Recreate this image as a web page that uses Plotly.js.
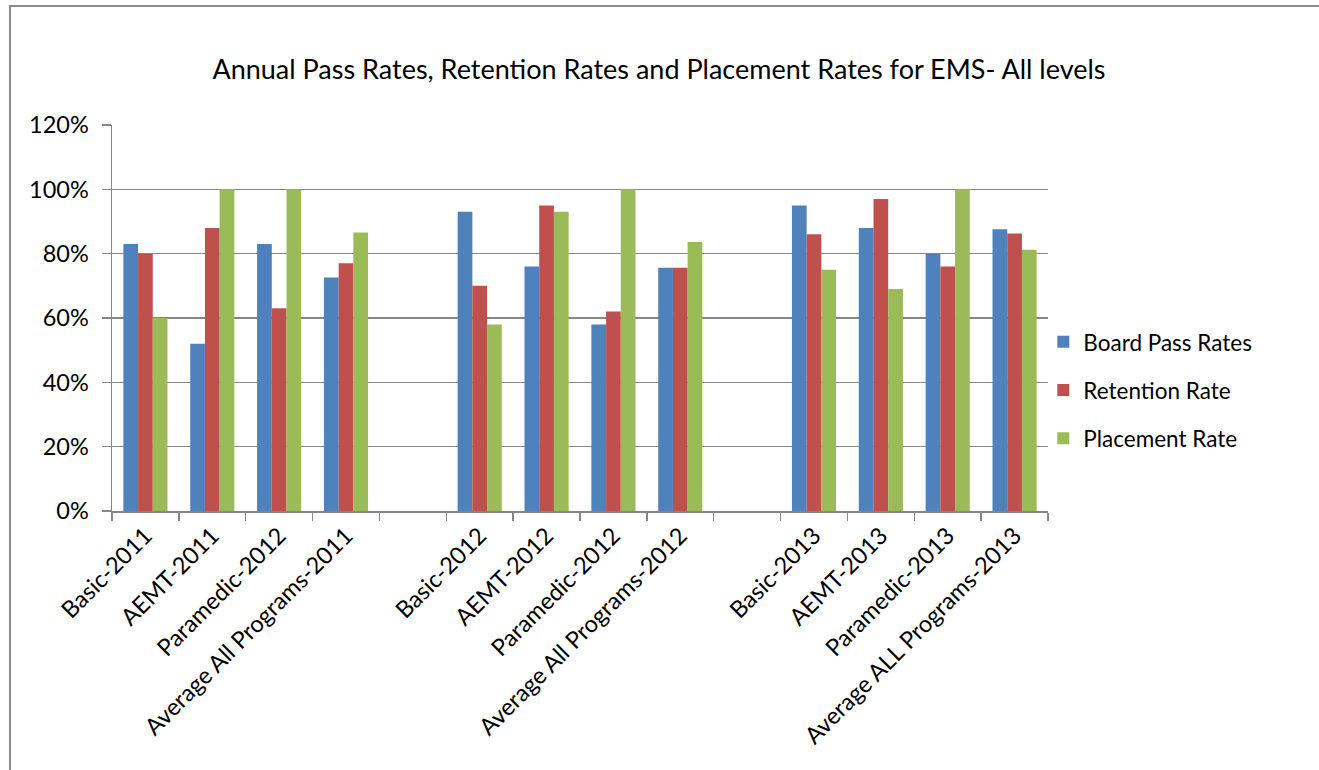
<!DOCTYPE html>
<html>
<head>
<meta charset="utf-8">
<script src="https://cdn.plot.ly/plotly-3.0.1.min.js"></script>
<style>
  html, body { margin: 0; padding: 0; background: #fff; }
  #chart { width: 1319px; height: 770px; position: relative; }
  #frame { position: absolute; left: 9px; top: 5px; width: 1400px; height: 900px;
           border-left: 2px solid #8c8c8c; border-top: 2px solid #8c8c8c; pointer-events: none; }
</style>
</head>
<body>
<div id="chart"></div>
<div id="frame"></div>
<script>
const categories = [
  "Basic-2011", "AEMT-2011", "Paramedic-2012", "Average All Programs-2011", "",
  "Basic-2012", "AEMT-2012", "Paramedic-2012", "Average All Programs-2012", "",
  "Basic-2013", "AEMT-2013", "Paramedic-2013", "Average ALL Programs-2013"
];
const boardPassRates = [83, 52, 83, 72.6, null, 93, 76, 58, 75.6, null, 95, 88, 80, 87.6];
const retentionRate  = [80, 88, 63, 77.0, null, 70, 95, 62, 75.6, null, 86, 97, 76, 86.3];
const placementRate  = [60, 100, 100, 86.6, null, 58, 93, 100, 83.6, null, 75, 69, 100, 81.2];
const seriesNames = ["Board Pass Rates", "Retention Rate", "Placement Rate"];
const seriesColors = ["#4f81bd", "#c0504d", "#9bbb59"];
const yTicks = [0, 20, 40, 60, 80, 100, 120];

const xIdx = categories.map((_, i) => i);
const seriesValues = [boardPassRates, retentionRate, placementRate];

const traces = seriesValues.map((vals, k) => ({
  type: "bar",
  name: seriesNames[k],
  x: xIdx,
  y: vals,
  legendgroup: "g" + k,
  marker: { color: seriesColors[k], line: { width: 0 } },
  hoverinfo: "y+name"
}));

const font = "Lato, 'Open Sans', 'DejaVu Sans', sans-serif";

const layout = {
  width: 1319,
  height: 770,
  margin: { l: 112, r: 271, t: 125, b: 259 },
  paper_bgcolor: "rgba(0,0,0,0)",
  plot_bgcolor: "#fff",
  font: { family: font, color: "#000", size: 23 },
  title: {
    text: "Annual Pass Rates, Retention Rates and Placement Rates for EMS- All levels",
    font: { family: font, size: 27, color: "#000" },
    x: 659 / 1319, xref: "container", xanchor: "center",
    y: 1 - 70 / 770, yref: "container", yanchor: "middle"
  },
  barmode: "group",
  bargap: 0.34,
  bargroupgap: 0,
  showlegend: true,
  legend: {
    x: 0.995, xanchor: "left",
    y: 0.313, yanchor: "middle",
    font: { family: font, size: 22.5, color: "#000" },
    tracegroupgap: 16,
    itemwidth: 30,
    bgcolor: "rgba(0,0,0,0)"
  },
  xaxis: {
    type: "linear",
    range: [-0.5, categories.length - 0.5],
    tickmode: "array",
    tickvals: xIdx,
    ticktext: categories,
    tickangle: -45,
    ticks: "",
    showgrid: false,
    zeroline: false,
    showline: true,
    linecolor: "#868686",
    linewidth: 1.5,
    tickfont: { family: font, size: 23.5, color: "#000" },
    minor: { ticks: "outside", tick0: -0.5, dtick: 1, ticklen: 8, tickcolor: "#868686", tickwidth: 1.5, showgrid: false },
    fixedrange: true
  },
  yaxis: {
    range: [0, 120],
    tickmode: "array",
    tickvals: yTicks,
    ticktext: yTicks.map(v => v + "%"),
    ticks: "outside",
    ticklen: 9,
    tickcolor: "#868686",
    tickwidth: 1.5,
    ticklabelstandoff: 8,
    showgrid: true,
    gridcolor: "#868686",
    gridwidth: 1.5,
    zeroline: false,
    showline: true,
    linecolor: "#868686",
    linewidth: 1.5,
    tickfont: { family: font, size: 23.5, color: "#000" },
    fixedrange: true
  }
};

Plotly.newPlot("chart", traces, layout, { displayModeBar: false, staticPlot: true });
</script>
</body>
</html>
